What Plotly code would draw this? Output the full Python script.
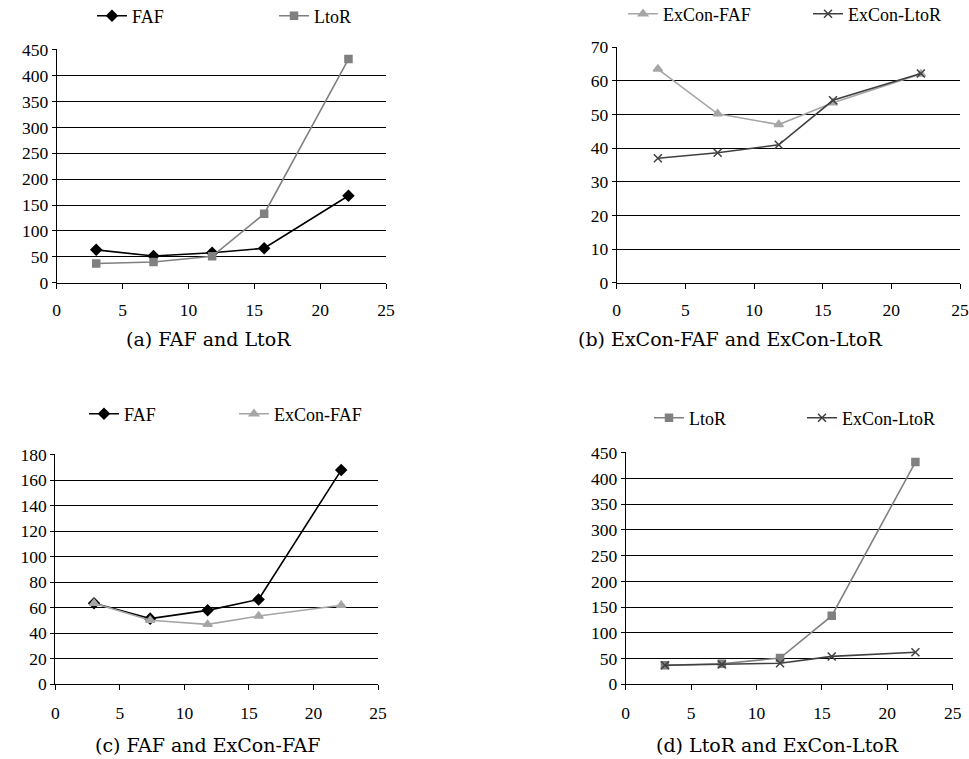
import plotly.graph_objects as go

W, H = 969, 759


def px(x):
    return x / W


def py(y):
    return 1 - y / H


# ---------------- data ----------------
x_vals = [3, 7.35, 11.8, 15.75, 22.15]
faf = [63.5, 51.5, 58, 66.5, 168]
ltor = [37, 40, 51, 133, 432]
excon_faf = [63.5, 50.2, 47, 53.5, 62]
excon_ltor = [37, 38.6, 41, 54.2, 62.2]

x_ticks = [0, 5, 10, 15, 20, 25]
captions = ["(a) FAF and LtoR", "(b) ExCon-FAF and ExCon-LtoR",
            "(c) FAF and ExCon-FAF", "(d) LtoR and ExCon-LtoR"]

SERIF = "Liberation Serif, Times New Roman, Tinos, serif"

# ---------------- styles ----------------
styles = {
    "FAF": dict(color="#000000", symbol="diamond", size=8, width=1.6),
    "LtoR": dict(color="#808080", symbol="square", size=7, width=1.6),
    "ExCon-FAF": dict(color="#A6A6A6", symbol="triangle-up", size=8, width=1.6),
    "ExCon-LtoR": dict(color="#404040", symbol="x-thin-open", size=8, width=1.6),
}
series = {"FAF": faf, "LtoR": ltor, "ExCon-FAF": excon_faf, "ExCon-LtoR": excon_ltor}

# panel layout in page pixels: (x_left, x_right, y_top, y_bottom, ymax, dtick)
panels = [
    (56.7, 386.0, 49.3, 282.7, 450, 50),
    (616.7, 960.0, 46.7, 282.7, 70, 10),
    (55.3, 378.0, 454.3, 684.3, 180, 20),
    (625.7, 952.7, 452.3, 684.3, 450, 50),
]
panel_series = [("FAF", "LtoR"), ("ExCon-FAF", "ExCon-LtoR"),
                ("FAF", "ExCon-FAF"), ("LtoR", "ExCon-LtoR")]
legend_pos = [((92, 16), (274, 16)), ((623, 14), (808, 14)),
              ((84, 414), (234, 414)), ((649, 418), (802, 418))]
caption_pos = [(208, 339), (730, 339), (207, 745), (777, 745)]
standoffs = [6, 6, 8, 8]

fig = go.Figure()
layout = dict(width=W, height=H, margin=dict(l=0, r=0, t=0, b=0, autoexpand=False),
              paper_bgcolor="white", plot_bgcolor="white",
              font=dict(family=SERIF, size=17, color="black"))

ann = []
leg_idx = 0
for i, (xl, xr, yt, yb, ymax, dt) in enumerate(panels):
    n = "" if i == 0 else str(i + 1)
    layout["xaxis" + n] = dict(
        domain=[px(xl), px(xr)], range=[0, 25], anchor="y" + n,
        tickmode="array", tickvals=x_ticks, ticktext=[str(t) for t in x_ticks],
        showgrid=False, zeroline=False, showline=True, linecolor="black", linewidth=1,
        ticks="outside", ticklen=5, tickcolor="black", tickwidth=1,
        ticklabelstandoff=standoffs[i], automargin=False,
        tickfont=dict(family=SERIF, size=17.5, color="black"),
        fixedrange=True)
    layout["yaxis" + n] = dict(
        domain=[py(yb), py(yt)], range=[0, ymax * 1.002], anchor="x" + n,
        tickmode="linear", tick0=0, dtick=dt,
        showgrid=True, gridcolor="black", gridwidth=1, zeroline=False,
        showline=True, linecolor="black", linewidth=1,
        ticks="outside", ticklen=4, tickcolor="black", tickwidth=1, automargin=False,
        tickfont=dict(family=SERIF, size=17.5, color="black"),
        fixedrange=True)
    for j, name in enumerate(panel_series[i]):
        st = styles[name]
        leg_idx += 1
        lname = "legend" if leg_idx == 1 else "legend" + str(leg_idx)
        fig.add_trace(go.Scatter(
            x=x_vals, y=series[name], name=name, mode="lines+markers",
            xaxis="x" + n, yaxis="y" + n, legend=lname, cliponaxis=False,
            line=dict(color=st["color"], width=st["width"]),
            marker=dict(symbol=st["symbol"], size=st["size"], color=st["color"],
                        line=dict(color=st["color"], width=1.5))))
        lx, ly = legend_pos[i][j]
        layout[lname] = dict(x=px(lx), y=py(ly), xanchor="left", yanchor="middle",
                             orientation="h", bgcolor="rgba(0,0,0,0)", borderwidth=0,
                             font=dict(family=SERIF, size=18, color="black"),
                             itemwidth=30)
    cx, cy = caption_pos[i]
    ann.append(dict(text=captions[i], x=px(cx), y=py(cy), xref="paper", yref="paper",
                    xanchor="center", yanchor="middle", showarrow=False,
                    font=dict(family="DejaVu Serif", size=19, color="black")))

layout["annotations"] = ann
layout["showlegend"] = True
layout["hovermode"] = False
fig.update_layout(**layout)
fig.write_html(
    "out.html",
    config={"displayModeBar": False, "staticPlot": True},
    post_script="document.body.style.margin='0';document.body.style.overflow='hidden';"
                "document.documentElement.style.overflow='hidden';")
